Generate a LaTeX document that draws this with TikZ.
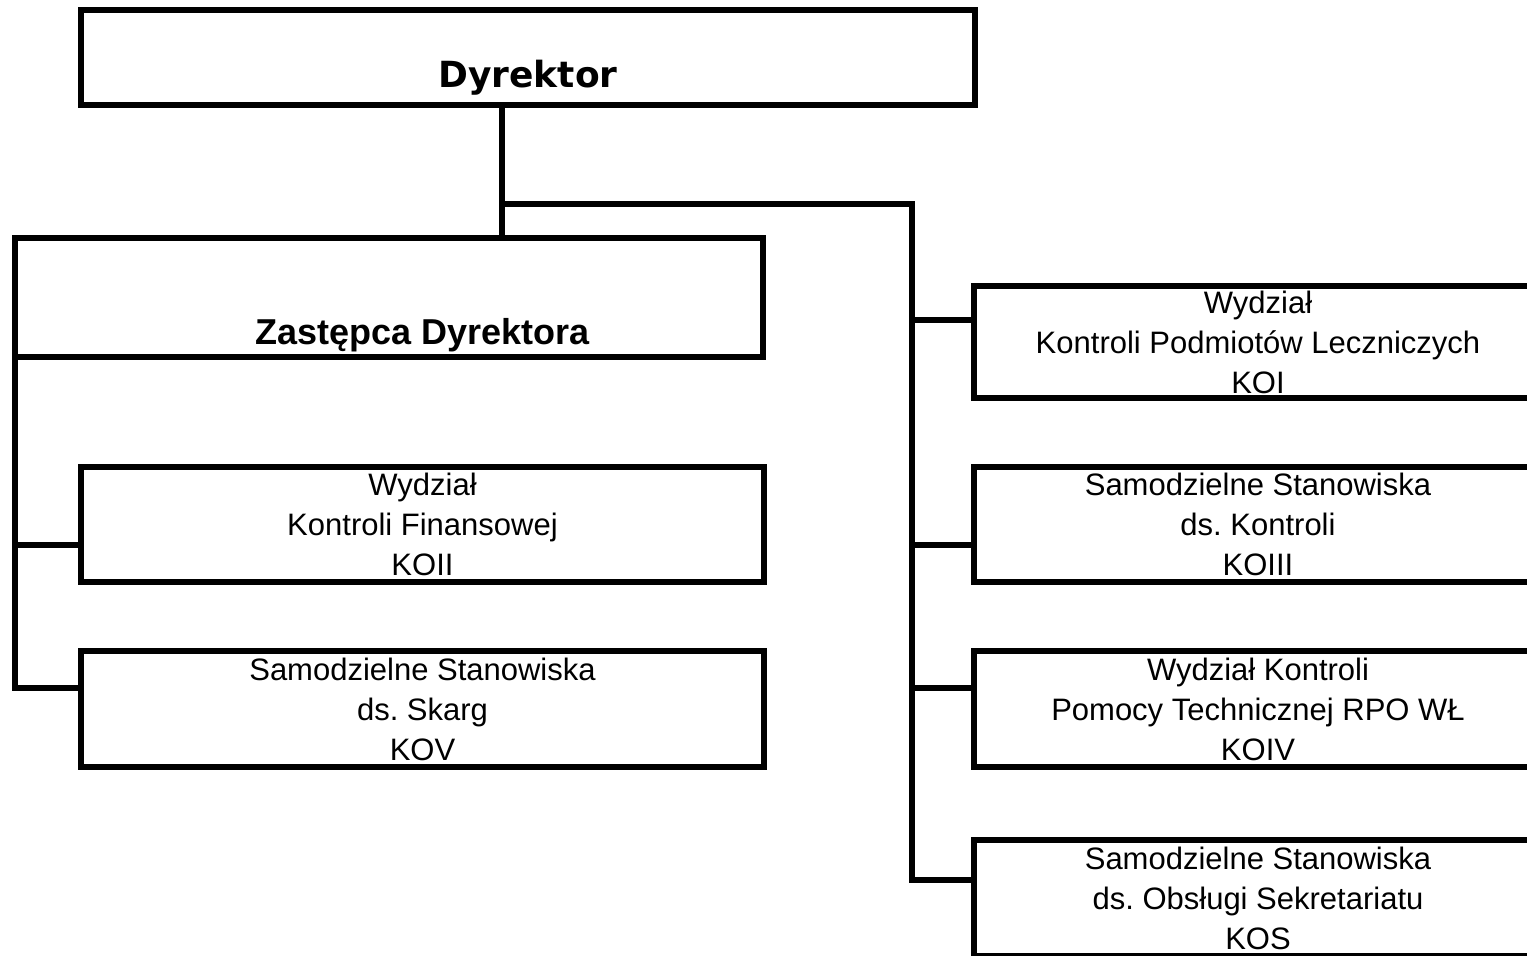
\documentclass[tikz,border=0pt]{standalone}
\usepackage{fontspec}
\setmainfont{Liberation Sans}
\newfontfamily\headfont{DejaVu Sans}
\usetikzlibrary{positioning}
\frenchspacing

\begin{document}
\begin{tikzpicture}[x=1pt,y=-1pt,line width=6pt,node distance=69pt,
  box/.style={draw,rectangle,inner sep=0pt,outer sep=0pt,align=center,
    font=\fontsize{31}{40}\selectfont},
  unit/.style={box,minimum width=683pt,minimum height=115pt},
  side/.style={box,minimum width=568pt,minimum height=115pt}]
\useasboundingbox (0,0) rectangle (1527,956);
% kierownictwo
\node[box,minimum width=894pt,minimum height=95pt,
  label={[anchor=base,yshift=18pt,font=\headfont\bfseries\fontsize{36}{40}\selectfont]south:Dyrektor}]
  (dyr) at (528,57.5) {};
\node[box,minimum width=748pt,minimum height=119pt,
  label={[anchor=base,xshift=34pt,yshift=13pt,font=\bfseries\fontsize{36}{40}\selectfont]south:Zastępca Dyrektora}]
  (zast) at (389,297.5) {};
% lewa kolumna
\node[unit] (koii) at (422.5,524.5) {Wydział\\Kontroli Finansowej\\KOII};
\node[unit,minimum height=116pt] (kov) [below=69pt of koii] {Samodzielne Stanowiska\\ds. Skarg\\KOV};
% prawa kolumna
\node[side,minimum height=112pt] (koi) at (1258,342) {Wydział\\Kontroli Podmiotów Leczniczych\\KOI};
\node[side] (koiii) [below=of koi] {Samodzielne Stanowiska\\ds. Kontroli\\KOIII};
\node[side,minimum height=116pt] (koiv) [below=of koiii] {Wydział Kontroli\\Pomocy Technicznej RPO WŁ\\KOIV};
\node[side,minimum height=116pt] (kos) [below=73pt of koiv] {Samodzielne Stanowiska\\ds. Obsługi Sekretariatu\\KOS};
% punkty wejscia
\coordinate (split) at (502,204);
\coordinate (bus) at (912,204);
\coordinate (koii-in) at ([yshift=-20pt]koii.west);
\coordinate (kov-in) at ([yshift=21pt]kov.west);
\coordinate (koi-in) at ([yshift=22pt]koi.west);
\coordinate (koiii-in) at ([yshift=-20pt]koiii.west);
\coordinate (koiv-in) at ([yshift=21pt]koiv.west);
\coordinate (kos-in) at ([yshift=18pt]kos.west);
% linie
\draw (dyr.south -| split) -- (zast.north -| split);
\draw (split) -- (bus) |- (kos-in);
\draw (bus |- koi-in) -- (koi-in);
\draw (bus |- koiii-in) -- (koiii-in);
\draw (bus |- koiv-in) -- (koiv-in);
\draw (zast.south west) |- (kov-in);
\draw (zast.south west |- koii-in) -- (koii-in);
\end{tikzpicture}
\end{document}
